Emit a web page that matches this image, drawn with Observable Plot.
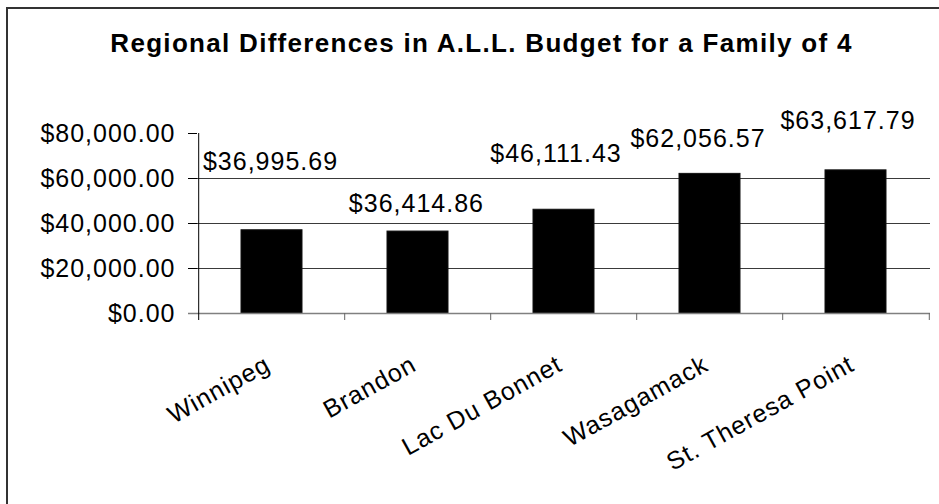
<!DOCTYPE html>
<html>
<head>
<meta charset="utf-8">
<script src="https://cdn.jsdelivr.net/npm/d3@7"></script>
<script src="https://cdn.jsdelivr.net/npm/@observablehq/plot@0.6"></script>
<style>
  body { margin: 0; background: #fff; overflow: hidden; }
  #wrap { position: relative; width: 939px; height: 504px; overflow: hidden; font-family: "Liberation Sans", Arial, sans-serif; }
  #border { position: absolute; left: 6px; top: 7px; width: 2000px; height: 2000px; border-left: 2px solid #333; border-top: 2px solid #333; }
  #title { position: absolute; left: 481.5px; top: 30px; transform: translateX(-50%); white-space: nowrap;
           font: bold 26px/26px "Liberation Sans", Arial, sans-serif; letter-spacing: 1.3px; color: #000; }
  #chart { position: absolute; left: 0; top: 0; }
  #chart svg text { letter-spacing: 1px; }
  #chart svg g[aria-label="category labels"] text { letter-spacing: 1.5px; }
</style>
</head>
<body>
<div id="wrap">
  <div id="border"></div>
  <div id="chart"></div>
  <div id="title">Regional Differences in A.L.L. Budget for a Family of 4</div>
</div>
<script>
// ---- data ----
const regions = ["Winnipeg", "Brandon", "Lac Du Bonnet", "Wasagamack", "St. Theresa Point"];
const budgets = [36995.69, 36414.86, 46111.43, 62056.57, 63617.79];
const yTicks = [0, 20000, 40000, 60000, 80000];
const gridTicks = [20000, 40000, 60000];

// ---- drawing ----
const rows = regions.map((r, i) => ({region: r, budget: budgets[i]}));
const W = 939, H = 504;
const mL = 197, mR = 9, mT = 133, mB = 191;
const step = (W - mL - mR) / regions.length;
const money = d3.format("$,.2f");
// Excel-style manual label nudges (dx, dy) per data label
const labelNudge = [[-1.5, -60], [-1.6, -20], [-8, -48], [-12, -27], [-8, -41]];

const labelMarks = rows.map((r, i) =>
  Plot.text([r], {
    x: "region", y: "budget", text: d => money(d.budget),
    dx: labelNudge[i][0], dy: labelNudge[i][1],
    lineAnchor: "bottom", textAnchor: "middle",
    fontSize: 25, fill: "#000"
  })
);

const chart = Plot.plot({
  width: W, height: H,
  marginLeft: mL, marginRight: mR, marginTop: mT, marginBottom: mB,
  style: {fontFamily: "'Liberation Sans', Arial, sans-serif", color: "#000", background: "transparent"},
  x: {type: "band", domain: regions, paddingInner: 0.583, paddingOuter: 0.2915, axis: null},
  y: {domain: [0, 80000], axis: null, label: null},
  marks: [
    Plot.ruleY(gridTicks, {stroke: "#3a3a3a", strokeWidth: 1}),
    Plot.axisY(yTicks, {tickFormat: money, tickSize: 9, tickPadding: 13, fontSize: 25, stroke: "#000", fill: "#000", label: null}),
    Plot.barY(rows, {x: "region", y: "budget", fill: "#000", stroke: "#111", strokeWidth: 1}),
    Plot.ruleY([0], {stroke: "#808080", strokeWidth: 1.5, insetLeft: -9}),
    Plot.ruleX(regions.slice(1), {x: d => d, y1: 0, y2: 0, dx: -step / 2, insetBottom: -7, stroke: "#666"}),
    Plot.ruleX(regions.slice(-1), {x: d => d, y1: 0, y2: 0, dx: step / 2, insetBottom: -7, stroke: "#666"}),
    Plot.ruleX(regions.slice(0, 1), {x: d => d, y1: 80000, y2: 0, dx: -step / 2, insetBottom: -7, stroke: "#000"}),
    ...labelMarks,
    Plot.text(regions, {
      x: d => d, y: () => 0, text: d => d,
      rotate: -29, textAnchor: "end", lineAnchor: "bottom",
      dy: 56, fontSize: 25, fill: "#000", ariaLabel: "category labels"
    })
  ]
});
document.getElementById("chart").appendChild(chart);
</script>
</body>
</html>
